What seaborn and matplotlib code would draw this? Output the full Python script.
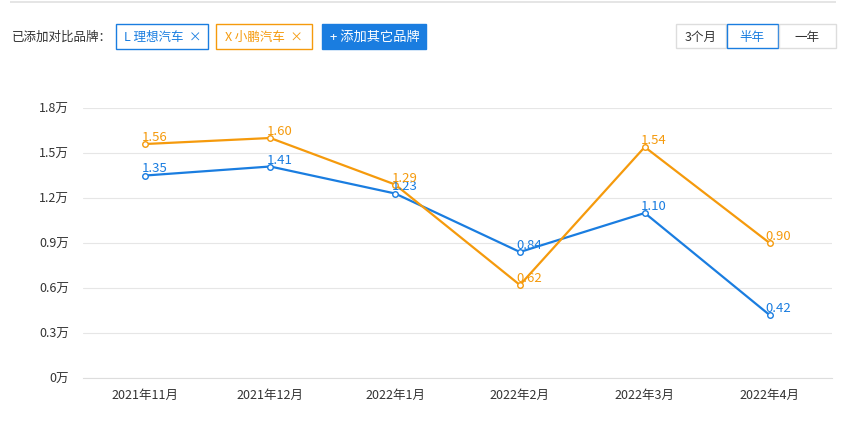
import matplotlib
matplotlib.use("Agg")
import matplotlib.pyplot as plt
import seaborn as sns
from matplotlib.patches import Rectangle

months = ['2021年11月', '2021年12月', '2022年1月', '2022年2月', '2022年3月', '2022年4月']
lixiang = [1.35, 1.41, 1.23, 0.84, 1.10, 0.42]
xpeng = [1.56, 1.60, 1.29, 0.62, 1.54, 0.90]
yticks = [0, 0.3, 0.6, 0.9, 1.2, 1.5, 1.8]
ytick_labels = ['0万', '0.3万', '0.6万', '0.9万', '1.2万', '1.5万', '1.8万']

BLUE = '#1a7de0'
ORANGE = '#f59a0c'

sns.set_theme(style='white')
plt.rcParams['font.family'] = ['Noto Sans CJK SC', 'DejaVu Sans']

fig = plt.figure(figsize=(8.44, 4.25), dpi=100)
ax = fig.add_axes([83 / 844, 1 - 378 / 425, (832 - 83) / 844, (378 - 108) / 425])
xs = list(range(len(months)))
for vals, c in [(lixiang, BLUE), (xpeng, ORANGE)]:
    sns.lineplot(x=xs, y=vals, color=c, marker='o', markersize=4,
                 markerfacecolor='white', markeredgecolor=c, markeredgewidth=1,
                 linewidth=1.6, ax=ax)
    for i in xs:
        ax.text(i - 0.03, vals[i], f'{vals[i]:.2f}', color=c, fontsize=9.5, va='bottom', ha='left')

ax.set_xlim(-0.5, 5.5)
ax.set_ylim(0, 1.8)
ax.set_yticks(yticks)
ax.set_yticklabels(ytick_labels, fontsize=9, color='#333333')
ax.set_xticks(xs)
ax.set_xticklabels(months, fontsize=9, color='#333333')
ax.tick_params(axis='y', length=0, pad=10)
ax.tick_params(axis='x', length=0, pad=8)
ax.grid(axis='y', color='#e6e6e6', linewidth=0.8)
for s in ['top', 'right', 'left']:
    ax.spines[s].set_visible(False)
ax.spines['bottom'].set_color('#dddddd')
ax.spines['bottom'].set_linewidth(0.8)

# header controls
W, H = 844, 425
def box(x0, y0, w, h, ec, fc='white'):
    fig.add_artist(Rectangle((x0 / W, 1 - (y0 + h) / H), w / W, h / H, transform=fig.transFigure,
                             facecolor=fc, edgecolor=ec, linewidth=1))
def txt(x, y, s, color, size=9, ha='left'):
    fig.text(x / W, 1 - y / H, s, color=color, fontsize=size, ha=ha, va='center')

fig.add_artist(Rectangle((10 / W, 1 - 3 / H), 826 / W, 2 / H, transform=fig.transFigure,
                         facecolor='#e5e5e5', edgecolor='none'))
txt(12, 37, '已添加对比品牌：', '#333333')
box(116, 24, 92, 25, BLUE)
txt(124, 37, 'L 理想汽车  ×', BLUE)
box(216, 24, 96, 25, ORANGE)
txt(225, 37, 'X 小鹏汽车  ×', ORANGE)
box(322, 24, 104, 25, BLUE, fc=BLUE)
txt(330, 37, '+ 添加其它品牌', 'white', size=9.5)
box(676, 24, 50, 24, '#dddddd')
box(727, 24, 51, 24, BLUE)
box(779, 24, 57, 24, '#dddddd')
txt(701, 37, '3个月', '#333333', ha='center')
txt(752, 37, '半年', BLUE, ha='center')
txt(807, 37, '一年', '#333333', ha='center')

fig.savefig('out.png', dpi=100)
